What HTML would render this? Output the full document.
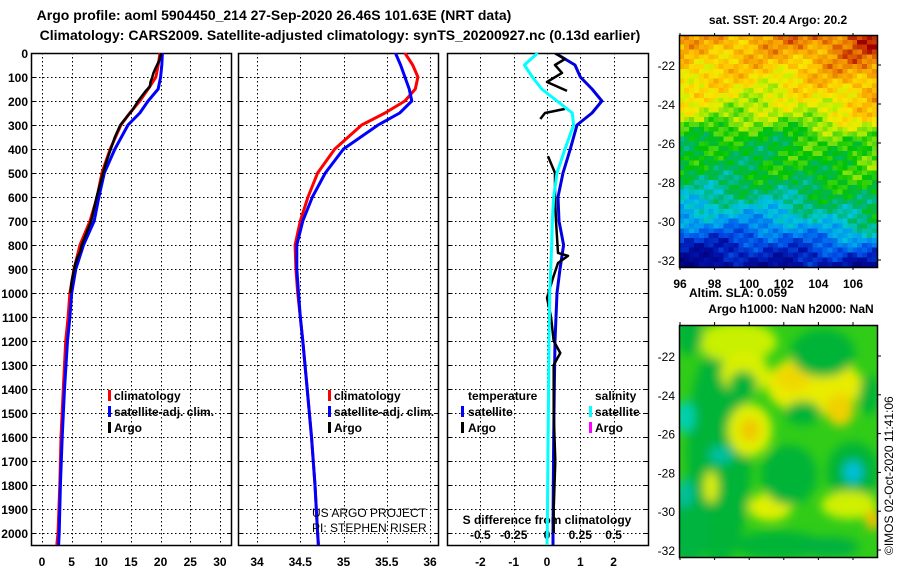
<!DOCTYPE html>
<html><head><meta charset="utf-8"><style>
html,body{margin:0;padding:0;background:#fff;}
svg{display:block;font-family:"Liberation Sans",sans-serif;font-weight:bold;}
</style></head><body>
<svg id="c" width="900" height="580" viewBox="0 0 900 580">
<defs>
<clipPath id="clip1"><rect x="31" y="53" width="200" height="492"/></clipPath>
<clipPath id="clip2"><rect x="238" y="53" width="200" height="492"/></clipPath>
<clipPath id="clip3"><rect x="447" y="53" width="201" height="492"/></clipPath>
<clipPath id="clipm2"><rect x="679" y="325" width="198" height="232"/></clipPath>
<filter id="blur" x="-50%" y="-50%" width="200%" height="200%"><feGaussianBlur stdDeviation="5"/></filter>
</defs>
<text x="274" y="20" font-size="14" text-anchor="middle">Argo profile: aoml 5904450_214 27-Sep-2020 26.46S 101.63E (NRT data)</text>
<text x="340" y="40" font-size="14" text-anchor="middle">Climatology: CARS2009. Satellite-adjusted climatology: synTS_20200927.nc (0.13d earlier)</text>
<text x="778" y="24" font-size="12" text-anchor="middle">sat. SST: 20.4 Argo: 20.2</text>
<text x="738" y="297" font-size="12" text-anchor="middle">Altim. SLA: 0.059</text>
<text x="791" y="313" font-size="12" text-anchor="middle">Argo h1000: NaN h2000: NaN</text>
<text x="0" y="0" font-size="12" font-weight="normal" transform="translate(893,555) rotate(-90)">©IMOS 02-Oct-2020 11:41:06</text>
<g id="g"></g>
</svg>
<script>
// ---- data ----
const depthTicks = [0,100,200,300,400,500,600,700,800,900,1000,1100,1200,1300,1400,1500,1600,1700,1800,1900,2000];
const tempTicks = [0,5,10,15,20,25,30];
const salTicks = [34,34.5,35,35.5,36];
const diffTempTicks = [-2,-1,0,1,2];
const diffSalTicks = [-0.5,-0.25,0,0.25,0.5];
const diffSalTickLabels = ["-0.5","-0.25","0","0.25","0.5"];

const climDepth = [0,50,100,150,200,250,300,400,500,600,700,800,900,1000,1100,1200,1400,1600,1800,2000,2050];
const climTemp  = [19.9,19.6,19.2,17.9,16.5,14.8,13.3,11.5,10.1,9.3,8.1,6.4,5.4,4.7,4.4,4.0,3.6,3.2,3.0,2.7,2.5];
const satTemp   = [20.3,20.2,20.0,19.6,17.9,16.5,14.5,12.3,10.5,9.6,8.8,7.0,5.7,5.0,4.7,4.3,3.8,3.4,3.1,2.9,2.8];
const climSal   = [35.71,35.8,35.86,35.83,35.71,35.48,35.21,34.9,34.7,34.59,34.5,34.44,34.45,34.47,34.5,34.53,34.58,34.63,34.67,34.7,34.71];
const satSal    = [35.6,35.66,35.71,35.76,35.79,35.65,35.4,35.0,34.79,34.64,34.53,34.46,34.46,34.48,34.5,34.53,34.58,34.63,34.67,34.7,34.71];
const satTempDiff = [0.24,0.84,1.0,1.35,1.65,1.35,0.9,0.7,0.48,0.33,0.36,0.5,0.39,0.3,0.27,0.24,0.22,0.2,0.19,0.18,0.18];
const satSalDiff  = [-0.07,-0.17,-0.11,-0.04,0.075,0.19,0.2,0.135,0.075,0.05,0.04,0.035,0.028,0.02,0.018,0.015,0.012,0.008,0.005,0.002,0.0];

const argoDepth = [0,30,60,83,100,121,140,158,200,240,260,300,350,400,450,500,600,700,800,830,850,880,950,1000];
const argoTemp  = [20.1,19.8,19.2,18.8,18.6,18.3,18.2,17.5,16.2,15.2,14.5,13.2,12.3,11.6,10.9,10.3,9.2,8.3,6.7,6.4,6.0,5.6,5.0,4.8];
const argoDiffDepth = [0,25,50,83,121,158,null,233,250,275,null,430,500,600,700,833,845,875,937,1020,1100,1200,1250,1300,1500,1700,1900,2000];
const argoDiff      = [0.24,0.54,0.24,0.45,0.0,0.6,null,0.54,-0.06,-0.2,null,0.03,0.24,0.24,0.27,0.33,0.63,0.33,0.18,0.0,0.12,0.2,0.4,0.2,0.2,0.25,0.2,0.2];

const mapLonTicks = [96,98,100,102,104,106];
const mapLatTicks = [-22,-24,-26,-28,-30,-32];

// ---- helpers ----
const NS='http://www.w3.org/2000/svg';
const G=document.getElementById('g');
function el(tag,attrs,parent){const e=document.createElementNS(NS,tag);for(const k in attrs)e.setAttribute(k,attrs[k]);(parent||G).appendChild(e);return e;}
const yD = d => 53 + d*0.24;
const x1 = v => 42 + v*5.93;
const x2 = v => 257 + (v-34)*86.5;
const x3t = v => 547 + v*33.3;
const x3s = v => 547 + v*133.2;

function panel(left,right,xs,ticks,name){
  const grp=el('g',{});
  
  
  const dot={stroke:'#000','stroke-width':1,'stroke-dasharray':'1.5,2.5'};
  depthTicks.forEach(d=>{ const yy=Math.round(yD(d))+0.5; if(d>0){const l=el('line',Object.assign({x1:left,x2:right,y1:yy,y2:yy},dot),grp);
     }
    el('line',{x1:left,x2:left+4,y1:yy,y2:yy,stroke:'#000'},grp);
    el('line',{x1:right-4,x2:right,y1:yy,y2:yy,stroke:'#000'},grp);});
  ticks.forEach(t=>{const x=Math.round(xs(t))+0.5;
    const l=el('line',Object.assign({x1:x,x2:x,y1:53,y2:545},dot),grp);
     });
  const r=el('rect',{x:left+0.5,y:53.5,width:right-left,height:492,fill:'none',stroke:'#000','stroke-width':1.5},grp);
  
  
  return grp;
}
function line(xs,vals,depths,color,w,clip,name){
  let d='',pen=false;
  for(let i=0;i<vals.length;i++){
    if(vals[i]===null||depths[i]===null){pen=false;continue;}
    d+=(pen?'L':'M')+xs(vals[i]).toFixed(1)+','+yD(depths[i]).toFixed(1);pen=true;
  }
  const p=el('path',{d:d,fill:'none',stroke:color,'stroke-width':w,'stroke-linejoin':'round','clip-path':'url(#'+clip+')'});
  
  
}
function txt(x,y,s,opts,name){const t=el('text',Object.assign({x:x,y:y,'font-size':12},opts||{}));t.textContent=s;
  
  return t;}
function legendBar(x,y,color,name){const r=el('rect',{x:x,y:y-10,width:3,height:11,fill:color});
  
  }

// ---- panels ----
panel(31,231,x1,tempTicks,'temperature-panel');
panel(238,438,x2,salTicks,'salinity-panel');
panel(447,648,x3t,diffTempTicks,'difference-panel');

depthTicks.forEach(d=>txt(28,yD(d)+5,String(d),{'text-anchor':'end'},'depth-tick-label'));
tempTicks.forEach(t=>txt(x1(t),566,String(t),{'text-anchor':'middle'},'temp-tick-label'));
salTicks.forEach(t=>txt(x2(t),566,String(t),{'text-anchor':'middle'},'salinity-tick-label'));
diffTempTicks.forEach(t=>txt(x3t(t),566,String(t),{'text-anchor':'middle'},'temp-diff-tick-label'));
diffSalTicks.forEach((t,i)=>txt(x3s(t),539,diffSalTickLabels[i],{'text-anchor':'middle'},'sal-diff-tick-label'));
txt(547,524,'S difference from climatology',{'text-anchor':'middle'},'s-diff-axis-title');

// series
line(x1,climTemp,climDepth,'#ff0000',3,'clip1','clim-temp-line');
line(x1,satTemp,climDepth,'#0000ff',3,'clip1','sat-temp-line');
line(x1,argoTemp,argoDepth,'#000000',2.5,'clip1','argo-temp-line');
line(x2,climSal,climDepth,'#ff0000',3,'clip2','clim-sal-line');
line(x2,satSal,climDepth,'#0000ff',3,'clip2','sat-sal-line');
line(x3t,satTempDiff,climDepth,'#0000e0',3,'clip3','sat-temp-diff-line');
line(x3t,argoDiff,argoDiffDepth,'#000000',2.5,'clip3','argo-temp-diff-line');
line(x3s,satSalDiff,climDepth,'#00ffff',3,'clip3','sat-sal-diff-line');

// legends
[[108,'climatology','#ff0000'],[108,'satellite-adj. clim.','#0000ff'],[108,'Argo','#000']].forEach((e,i)=>{
  legendBar(e[0],400+i*16,e[2],'legend-swatch-p1');txt(e[0]+6,400+i*16,e[1],{},'legend-entry-p1');});
[[328,'climatology','#ff0000'],[328,'satellite-adj. clim.','#0000ff'],[328,'Argo','#000']].forEach((e,i)=>{
  legendBar(e[0],400+i*16,e[2],'legend-swatch-p2');txt(e[0]+6,400+i*16,e[1],{},'legend-entry-p2');});
txt(468,400,'temperature',{},'legend-header-temperature');
legendBar(461,416,'#0000ff','legend-swatch-temp-sat');txt(468,416,'satellite',{},'legend-entry-temp-sat');
legendBar(461,432,'#000','legend-swatch-temp-argo');txt(468,432,'Argo',{},'legend-entry-temp-argo');
txt(595,400,'salinity',{},'legend-header-salinity');
legendBar(589,416,'#00ffff','legend-swatch-sal-sat');txt(595,416,'satellite',{},'legend-entry-sal-sat');
legendBar(589,432,'#ff00ff','legend-swatch-sal-argo');txt(595,432,'Argo',{},'legend-entry-sal-argo');
txt(312,517,'US ARGO PROJECT',{'font-weight':'normal'},'project-label');
txt(312,532,'PI: STEPHEN RISER',{'font-weight':'normal'},'pi-label');

// ---- SST map ----
const MX=679,MY=35,MW=198,MH=232;
const stops=[[0,'#000078'],[0.12,'#0010a8'],[0.22,'#0050e8'],[0.32,'#0098f0'],[0.4,'#00c8d8'],[0.48,'#00b468'],[0.56,'#00c400'],[0.62,'#60dc10'],[0.68,'#c8f000'],[0.74,'#f8e800'],[0.8,'#ffc000'],[0.87,'#f09000'],[0.93,'#d85000'],[1,'#a00000']];
function hex(c){return [parseInt(c.substr(1,2),16),parseInt(c.substr(3,2),16),parseInt(c.substr(5,2),16)];}
function cmap(v){v=Math.max(0,Math.min(1,v));for(let i=1;i<stops.length;i++){if(v<=stops[i][0]){const a=stops[i-1],b=stops[i];const f=(v-a[0])/(b[0]-a[0]);const A=hex(a[1]),B=hex(b[1]);return 'rgb('+A.map((x,k)=>Math.round(x+(B[k]-x)*f)).join(',')+')';}}return stops[stops.length-1][1];}
const colYF=[0,0.2,0.35,0.45,0.6,0.7,0.8,0.9,1];
const colL=[0.82,0.77,0.68,0.54,0.5,0.42,0.33,0.14,0.05];
const colM=[0.86,0.74,0.64,0.54,0.53,0.46,0.33,0.2,0.1];
const colR=[0.97,0.84,0.77,0.63,0.58,0.53,0.5,0.3,0.08];
function interpCol(col,yf){for(let i=1;i<colYF.length;i++){if(yf<=colYF[i]){const f=(yf-colYF[i-1])/(colYF[i]-colYF[i-1]);return col[i-1]+(col[i]-col[i-1])*f;}}return col[col.length-1];}
const mapG=el('g',{'shape-rendering':'crispEdges'});


const cw=198/40,ch=232/48;
for(let j=0;j<48;j++)for(let i=0;i<40;i++){
  const xf=(i+0.5)/40,yf=(j+0.5)/48;
  const a=interpCol(colL,yf),m=interpCol(colM,yf),b=interpCol(colR,yf);
  let v=xf<0.5?a+(m-a)*xf*2:m+(b-m)*(xf-0.5)*2;
  v+=0.035*Math.sin(i*1.7+j*2.3)+0.03*Math.cos(i*0.9-j*1.3)+0.04*Math.sin(i*0.35+j*0.5);
  el('rect',{x:(MX+i*cw).toFixed(2),y:(MY+j*ch).toFixed(2),width:(cw+0.3).toFixed(2),height:(ch+0.3).toFixed(2),fill:cmap(v)},mapG);
}
const f1=el('rect',{x:MX+0.5,y:MY+0.5,width:MW,height:MH,fill:'none',stroke:'#000','stroke-width':1.5});


const lonX=v=>680+(v-96)*17.3;
const latY1=v=>65+(-22-v)*19.5;
const latY2=v=>356+(-22-v)*19.4;
mapLonTicks.forEach(t=>{txt(lonX(t),288,String(t),{'text-anchor':'middle'},'sst-lon-tick-label');
  el('line',{x1:lonX(t),x2:lonX(t),y1:267,y2:270,stroke:'#000'});el('line',{x1:lonX(t),x2:lonX(t),y1:33,y2:36,stroke:'#000'});
  el('line',{x1:lonX(t),x2:lonX(t),y1:557,y2:560,stroke:'#000'});el('line',{x1:lonX(t),x2:lonX(t),y1:322,y2:325,stroke:'#000'});});
mapLatTicks.forEach(t=>{txt(675,latY1(t)+5,String(t),{'text-anchor':'end','font-weight':'normal'},'sst-lat-tick-label');
  txt(675,latY2(t)+5,String(t),{'text-anchor':'end','font-weight':'normal'},'sla-lat-tick-label');
  el('line',{x1:877,x2:881,y1:latY1(t),y2:latY1(t),stroke:'#000'});el('line',{x1:877,x2:881,y1:latY2(t),y2:latY2(t),stroke:'#000'});});

// ---- SLA map ----
const m2=el('g',{'clip-path':'url(#clipm2)'});


el('rect',{x:679,y:325,width:198,height:232,fill:'#30cc18'},m2);
const bg=el('g',{filter:'url(#blur)'},m2);
const blobs=[
 [40,130,32,110,'#00b438'],[10,200,20,40,'#00b440'],[100,220,45,14,'#00b438'],
 [58,17,40,20,'#c8f000'],[66,48,24,22,'#d8f000'],[64,60,14,14,'#00b438'],
 [135,60,48,30,'#e8ec00'],[114,52,18,14,'#f0d800'],[161,85,14,16,'#f0d000'],
 [144,28,32,24,'#00b438'],[124,88,18,12,'#00b438'],
 [71,105,22,26,'#e0f000'],[71,105,10,12,'#f0c800'],
 [6,92,10,16,'#00d0b0'],[42,130,12,9,'#00c0a0'],[6,168,8,14,'#00c0a0'],
 [32,162,7,16,'#e0f000'],[174,147,26,30,'#00b438'],[174,147,9,11,'#00c0e0'],
 [170,180,28,14,'#d0f000'],[194,195,8,10,'#f0c000'],[91,182,22,14,'#e0f000'],
 [110,150,28,30,'#00b438'],[10,10,14,20,'#00b438'],
 [190,70,10,20,'#00b438'],[150,222,30,10,'#00b040']];
blobs.forEach(b=>{const e=el('ellipse',{cx:679+b[0],cy:325+b[1],rx:b[2],ry:b[3],fill:b[4]},bg);
  
  });
const f2=el('rect',{x:MX+0.5,y:325.5,width:MW,height:232,fill:'none',stroke:'#000','stroke-width':1.5});


</script>
</body></html>
